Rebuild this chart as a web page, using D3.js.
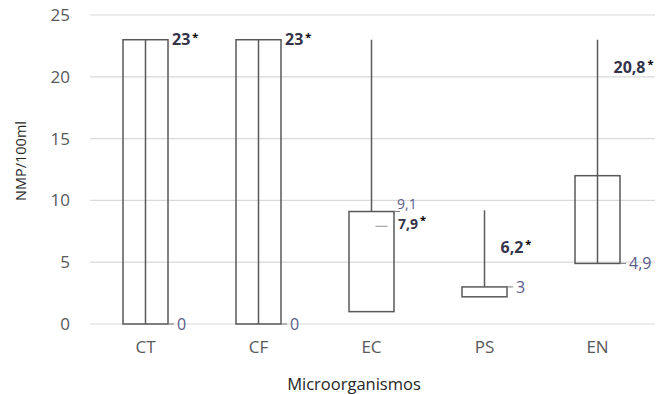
<!DOCTYPE html>
<html><head><meta charset="utf-8">
<script src="https://cdn.jsdelivr.net/npm/d3@7"></script>
<style>body{margin:0;background:#fff}svg{display:block}</style>
</head><body>
<svg id="c" width="659" height="394"></svg>
<script>
const categories = ["CT","CF","EC","PS","EN"];
const minVals = [0,0,1,2.2,4.9];
const q1Vals = [0,0,1,2.2,4.9];
const q3Vals = [23,23,9.1,3,12];
const maxVals = [23,23,23,9.2,23];
const medianVals = [null,null,7.9,null,null];
const starValues = [23,23,7.9,6.2,20.8];
const starLabels = ["23","23","7,9","6,2","20,8"];
const sideValues = [0,0,9.1,3,4.9];
const sideLabels = ["0","0","9,1","3","4,9"];
const yTicks = [0,5,10,15,20,25];

const svg = d3.select("#c");
const font = "'Open Sans', sans-serif";
const x = d3.scaleBand().domain(categories).range([89,654]);
const y = d3.scaleLinear().domain([0,25]).range([324,15]);
const bw = 45;

// gridlines
svg.append("g").selectAll("line").data(yTicks).join("line")
  .attr("x1",90).attr("x2",655).attr("y1",d=>y(d)).attr("y2",d=>y(d))
  .attr("stroke","#d9d9d9").attr("stroke-width",1.2);

// y axis labels
const ya = svg.append("g").attr("transform","translate(70,0)")
  .call(d3.axisLeft(y).tickValues(yTicks).tickSize(0).tickPadding(0));
ya.select(".domain").remove();
ya.selectAll("text").attr("font-family",font).attr("font-size",17).attr("fill","#595959");

// x axis labels
const xa = svg.append("g").attr("transform","translate(0,340)")
  .call(d3.axisBottom(x).tickSize(0).tickPadding(0));
xa.select(".domain").remove();
xa.selectAll("text").attr("font-family",font).attr("font-size",17).attr("fill","#595959").attr("dy","0.75em");

const idx = d3.range(categories.length);
const cx = i => x(categories[i]) + x.bandwidth()/2;
const stroke = "#595959";

const g = svg.append("g");
// boxes
g.selectAll("rect").data(idx).join("rect")
  .attr("x",i=>cx(i)-bw/2).attr("width",bw)
  .attr("y",i=>y(q3Vals[i])).attr("height",i=>y(q1Vals[i])-y(q3Vals[i]))
  .attr("fill","none").attr("stroke",stroke).attr("stroke-width",1.5);
// whiskers (center line): EC and PS start at box top, others span the whole range
const whiskerFrom = i => (categories[i]==="EC" || categories[i]==="PS") ? q3Vals[i] : minVals[i];
g.selectAll("line.wh").data(idx).join("line").attr("class","wh")
  .attr("x1",cx).attr("x2",cx)
  .attr("y1",i=>y(whiskerFrom(i))).attr("y2",i=>y(maxVals[i]))
  .attr("stroke",stroke).attr("stroke-width",1.5);
// median marks
g.selectAll("line.md").data(idx.filter(i=>medianVals[i]!==null)).join("line").attr("class","md")
  .attr("x1",i=>cx(i)+4).attr("x2",i=>cx(i)+16)
  .attr("y1",i=>y(medianVals[i])).attr("y2",i=>y(medianVals[i]))
  .attr("stroke","#a6a6a6").attr("stroke-width",1.2);
// leader lines for side labels
g.selectAll("line.ld").data(idx).join("line").attr("class","ld")
  .attr("x1",i=>cx(i)+bw/2).attr("x2",i=>cx(i)+bw/2+6)
  .attr("y1",i=>y(sideValues[i])).attr("y2",i=>y(sideValues[i]))
  .attr("stroke","#7f7f7f").attr("stroke-width",1);

// label vertical positions, spread apart when too close
const sideY = idx.map(i=>y(sideValues[i]));
const starY = idx.map(i=>y(starValues[i]));
idx.forEach(i=>{
  const d = starY[i]-sideY[i];
  if (Math.abs(d) < 20) {
    const mid = (starY[i]+sideY[i])/2 - 5;
    sideY[i] = mid - 10; starY[i] = mid + 10;
  }
});
const close = i => Math.abs(y(starValues[i]) - y(sideValues[i])) < 20;

// side labels
g.selectAll("text.sd").data(idx).join("text").attr("class","sd")
  .attr("x",i=>cx(i)+bw/2+(close(i)?3:9))
  .attr("y",i=>sideY[i]).attr("dy","0.36em")
  .attr("font-family",font).attr("font-size",i=>close(i)?14:16).attr("fill","#5b5b8c")
  .text(i=>sideLabels[i]);

// bold star labels
const st = g.selectAll("text.st").data(idx).join("text").attr("class","st")
  .attr("x",i=>starValues[i]>q3Vals[i] ? cx(i)+16 : cx(i)+bw/2+4)
  .attr("y",i=>starY[i]).attr("dy","0.36em")
  .attr("font-family",font).attr("font-size",i=>close(i)?14:16).attr("font-weight","bold").attr("fill","#33334a");
st.append("tspan").text(i=>starLabels[i]);
st.append("tspan").attr("dy","-0.45em").attr("dx","2").attr("font-size",11).attr("fill","#000").text("*");

// axis titles
svg.append("text").attr("x",354).attr("y",384).attr("dy","0.36em").attr("text-anchor","middle")
  .attr("font-family",font).attr("font-size",16.5).attr("fill","#262626").text("Microorganismos");
svg.append("text").attr("transform","translate(21,161) rotate(-90)").attr("dy","0.36em").attr("text-anchor","middle")
  .attr("font-family",font).attr("font-size",14.5).attr("fill","#262626").text("NMP/100ml");
</script>
</body></html>
